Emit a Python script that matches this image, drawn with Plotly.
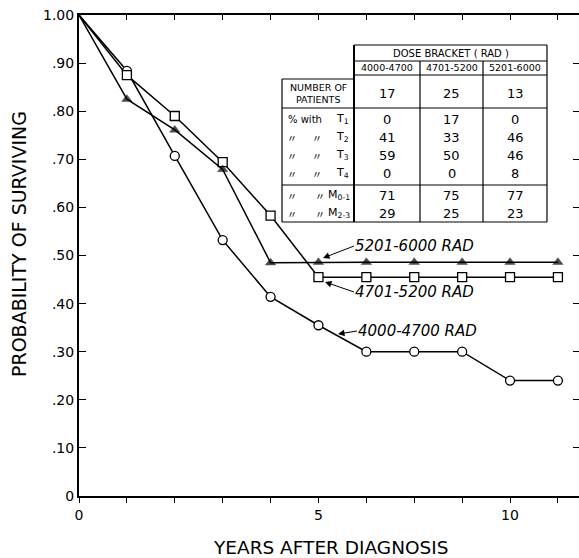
import plotly.graph_objects as go

# ---------------- data ----------------
interval = [0, 1, 2, 3, 4, 5, 6, 7, 8, 9, 10]          # follow-up interval positions
surv_4000_4700 = [1.00, 0.884, 0.707, 0.532, 0.414, 0.355, 0.300, 0.300, 0.300, 0.240, 0.240]
surv_4701_5200 = [1.00, 0.875, 0.790, 0.694, 0.583, 0.455, 0.455, 0.455, 0.455, 0.455, 0.455]
surv_5201_6000 = [1.00, 0.825, 0.761, 0.679, 0.485, 0.486, 0.486, 0.486, 0.486, 0.486, 0.486]

x_label_vals = [0, 5, 9]
x_label_text = ["0", "5", "10"]
x_minor_vals = [1, 2, 3, 4, 6, 7, 8, 10]
y_tickvals = [0, 0.1, 0.2, 0.3, 0.4, 0.5, 0.6, 0.7, 0.8, 0.9, 1.0]
y_ticktext = ["0", ".10", ".20", ".30", ".40", ".50", ".60", ".70", ".80", ".90", "1.00"]

dose_brackets = ["4000-4700", "4701-5200", "5201-6000"]
n_patients = [17, 25, 13]
pct_T1 = [0, 17, 0]
pct_T2 = [41, 33, 46]
pct_T3 = [59, 50, 46]
pct_T4 = [0, 0, 8]
pct_M01 = [71, 75, 77]
pct_M23 = [29, 25, 23]

curve_labels = ["5201-6000 RAD", "4701-5200 RAD", "4000-4700 RAD"]

# ---------------- layout geometry ----------------
W, H = 579, 558
ML, MR, MT, MB = 79, 0, 15, 62
PW, PH = W - ML - MR, H - MT - MB
XMAX = 10.44
FONT = "DejaVu Sans"


def pxx(p):  # pixel x -> paper
    return (p - ML) / PW


def pxy(p):  # pixel y -> paper
    return (H - MB - p) / PH


def dx(p):  # pixel x -> data x
    return (p - ML) / PW * XMAX


def dy(p):  # pixel y -> data y
    return (H - MB - p) / PH


fig = go.Figure()

msize = [0] + [9] * (len(interval) - 1)

fig.add_trace(go.Scatter(
    x=interval, y=surv_4000_4700, mode="lines+markers",
    line=dict(color="black", width=1.5),
    marker=dict(symbol="circle", size=msize, color="#ffffff", opacity=1,
                line=dict(color="black", width=1.3)),
    showlegend=False, hoverinfo="skip"))
fig.add_trace(go.Scatter(
    x=interval, y=surv_4701_5200, mode="lines+markers",
    line=dict(color="black", width=1.5),
    marker=dict(symbol="square", size=msize, color="#ffffff", opacity=1,
                line=dict(color="black", width=1.3)),
    showlegend=False, hoverinfo="skip"))
fig.add_trace(go.Scatter(
    x=interval, y=surv_5201_6000, mode="lines+markers",
    line=dict(color="black", width=1.5),
    marker=dict(symbol="triangle-up", size=msize, color="black", line=dict(color="black", width=0.5)),
    showlegend=False, hoverinfo="skip"))

# dummy traces so the mirror axes exist
fig.add_trace(go.Scatter(x=[None], y=[None], xaxis="x2", yaxis="y", showlegend=False, hoverinfo="skip"))
fig.add_trace(go.Scatter(x=[None], y=[None], xaxis="x", yaxis="y2", showlegend=False, hoverinfo="skip"))

fig.update_layout(
    width=W, height=H,
    margin=dict(l=ML, r=MR, t=MT, b=MB, autoexpand=False),
    paper_bgcolor="white", plot_bgcolor="white",
    font=dict(family=FONT, color="black", size=13),
    xaxis=dict(range=[0, XMAX], tickvals=x_label_vals, ticktext=x_label_text,
               ticks="outside", ticklen=5, tickwidth=1.2, tickcolor="black",
               minor=dict(tickvals=x_minor_vals, ticks="outside", ticklen=5, tickwidth=1.2,
                          tickcolor="black", showgrid=False),
               showline=True, linewidth=1.5, linecolor="black",
               showgrid=False, zeroline=False, tickfont=dict(size=14, family=FONT)),
    xaxis2=dict(range=[0, XMAX], overlaying="x", side="top", anchor="y",
                tickvals=interval[1:], ticks="inside", ticklen=5, tickwidth=1.2, tickcolor="black",
                showticklabels=False, showline=True, linewidth=1.5, linecolor="black",
                showgrid=False, zeroline=False),
    yaxis=dict(range=[0, 1.0], tickvals=y_tickvals, ticktext=y_ticktext,
               ticks="inside", ticklen=7, tickwidth=1.2, tickcolor="black",
               showline=True, linewidth=2, linecolor="black",
               showgrid=False, zeroline=False, tickfont=dict(size=14, family=FONT)),
    yaxis2=dict(range=[0, 1.0], overlaying="y", side="right", anchor="x",
                tickvals=y_tickvals[1:-1], ticks="inside", ticklen=6, tickwidth=1.2, tickcolor="black",
                showticklabels=False, showline=False, showgrid=False, zeroline=False),
)

annotations = []
# axis titles
annotations.append(dict(text="YEARS AFTER DIAGNOSIS", xref="paper", yref="paper",
                        x=pxx(331), y=pxy(547), xanchor="center", yanchor="middle",
                        showarrow=False, font=dict(size=18.5, family=FONT)))
annotations.append(dict(text="PROBABILITY OF SURVIVING", xref="paper", yref="paper",
                        x=pxx(19), y=pxy(244), xanchor="center", yanchor="middle", textangle=-90,
                        showarrow=False, font=dict(size=19, family=FONT)))

# curve labels with arrows (text box left edge sits at the arrow tail)
arrow_tail = [(354, 246), (354, 292), (357, 331)]
arrow_tip = [(323, 258), (325, 282), (338, 334)]
for lab, (tx, ty), (hx, hy) in zip(curve_labels, arrow_tail, arrow_tip):
    annotations.append(dict(text="<i>" + lab + "</i>", xref="x", yref="y", x=dx(hx), y=dy(hy),
                            axref="x", ayref="y", ax=dx(tx), ay=dy(ty),
                            xanchor="left", yanchor="middle",
                            showarrow=True, arrowhead=2, arrowsize=1.3, arrowwidth=1,
                            arrowcolor="black", borderpad=0,
                            font=dict(size=15, family=FONT)))

# ---------------- table ----------------
TL, TC0, TC1, TC2, TR = 282, 354, 420, 483, 547
T_TOP, T_HDR, T_SUB, T_LEFT_TOP, T_PAT, T_T, T_BOT = 45, 61, 75, 79, 108, 185, 222

shapes = []


def rect(x0, y0, x1, y1, **kw):
    shapes.append(dict(type="rect", xref="paper", yref="paper",
                       x0=pxx(x0), x1=pxx(x1), y0=pxy(y0), y1=pxy(y1), **kw))


def line(x0, y0, x1, y1, w=1.2):
    shapes.append(dict(type="line", xref="paper", yref="paper",
                       x0=pxx(x0), x1=pxx(x1), y0=pxy(y0), y1=pxy(y1),
                       line=dict(color="black", width=w)))


rect(TC0, T_TOP, TR, T_BOT, fillcolor="white", line=dict(width=0))
rect(TL, T_LEFT_TOP, TC0, T_BOT, fillcolor="white", line=dict(width=0))
line(TC0, T_TOP, TR, T_TOP)
line(TC0, T_HDR, TR, T_HDR)
line(TC0, T_SUB, TR, T_SUB)
line(TL, T_LEFT_TOP, TC0, T_LEFT_TOP)
line(TL, T_PAT, TR, T_PAT)
line(TL, T_T, TR, T_T)
line(TL, T_BOT, TR, T_BOT)
line(TL, T_LEFT_TOP, TL, T_BOT)
line(TC0, T_TOP, TC0, T_BOT, w=2)
line(TC1, T_HDR, TC1, T_BOT)
line(TC2, T_HDR, TC2, T_BOT)
line(TR, T_TOP, TR, T_BOT)
for s in shapes:
    s["layer"] = "above"


def ptext(t, x, y, size=10, anchor="center", family=FONT):
    annotations.append(dict(text=t, xref="paper", yref="paper", x=pxx(x), y=pxy(y),
                            xanchor=anchor, yanchor="middle", showarrow=False,
                            font=dict(size=size, family=family)))


ptext("DOSE BRACKET ( RAD )", (TC0 + TR) / 2, 53, size=10)
col_centers = [(TC0 + TC1) / 2, (TC1 + TC2) / 2, (TC2 + TR) / 2]
for c, lab in zip(col_centers, dose_brackets):
    ptext(lab, c, 68, size=9.5)

ptext("NUMBER OF", (TL + TC0) / 2, 88, size=9.5)
ptext("PATIENTS", (TL + TC0) / 2, 100, size=9.5)

rows = [(93, n_patients), (119.5, pct_T1), (137, pct_T2), (155, pct_T3), (173, pct_T4),
        (195, pct_M01), (213, pct_M23)]
for ry, vals in rows:
    for c, v in zip(col_centers, vals):
        ptext(str(v), c, ry, size=13)

ditto = "\u3003"
DF = "Noto Sans CJK JP"
ptext("% with", 286, 119.5, size=10, anchor="left")
ptext("T<sub>1</sub>", 351, 119.5, size=11, anchor="right")
for ry, sub in [(137, "2"), (155, "3"), (173, "4")]:
    ptext(ditto, 285, ry, size=10, anchor="left", family=DF)
    ptext(ditto, 310, ry, size=10, anchor="left", family=DF)
    ptext("T<sub>" + sub + "</sub>", 351, ry, size=11, anchor="right")
for ry, sub in [(195, "0-1"), (213, "2-3")]:
    ptext(ditto, 285, ry, size=10, anchor="left", family=DF)
    ptext(ditto, 313, ry, size=10, anchor="left", family=DF)
    ptext("M<sub>" + sub + "</sub>", 352, ry, size=11, anchor="right")

fig.update_layout(annotations=annotations, shapes=shapes)

fig.write_html("out.html")
